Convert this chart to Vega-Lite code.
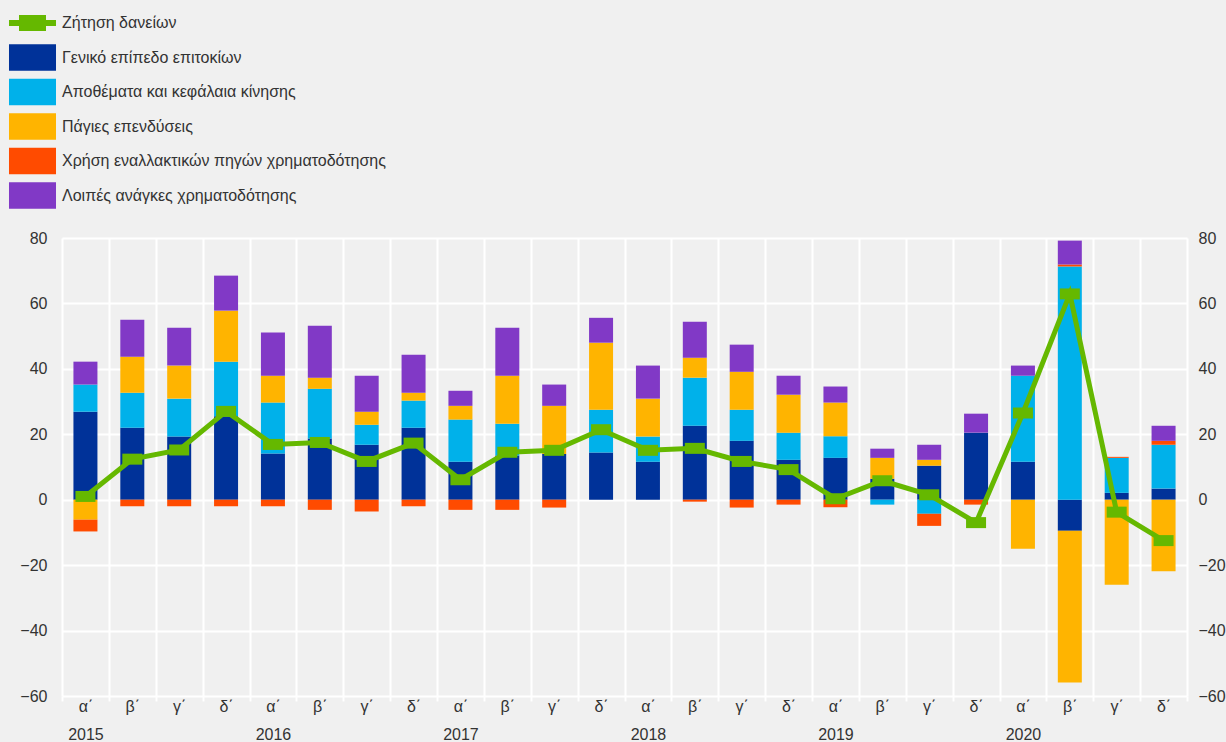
{
  "$schema": "https://vega.github.io/schema/vega-lite/v6.json",
  "autosize": {"type": "none"},
  "width": 1125,
  "height": 458,
  "padding": {"left": 62, "top": 238, "right": 39, "bottom": 46},
  "background": "#f0f0f0",
  "config": {
    "view": {"stroke": null},
    "font": "Liberation Sans",
    "axis": {"labelFont": "Liberation Sans", "labelColor": "#333333", "labelFontSize": 16, "domain": false, "gridColor": "#ffffff", "gridWidth": 2, "gridOpacity": 1, "title": null},
    "legend": {"labelFont": "Liberation Sans"}
  },
  "datasets": {
    "bars": [
      {"period": "2015 α΄", "series": "Γενικό επίπεδο επιτοκίων", "value": 26.9},
      {"period": "2015 α΄", "series": "Αποθέματα και κεφάλαια κίνησης", "value": 8.3},
      {"period": "2015 α΄", "series": "Πάγιες επενδύσεις", "value": -6.1},
      {"period": "2015 α΄", "series": "Χρήση εναλλακτικών πηγών χρηματοδότησης", "value": -3.6},
      {"period": "2015 α΄", "series": "Λοιπές ανάγκες χρηματοδότησης", "value": 7.0},
      {"period": "2015 β΄", "series": "Γενικό επίπεδο επιτοκίων", "value": 22.0},
      {"period": "2015 β΄", "series": "Αποθέματα και κεφάλαια κίνησης", "value": 10.7},
      {"period": "2015 β΄", "series": "Πάγιες επενδύσεις", "value": 11.0},
      {"period": "2015 β΄", "series": "Χρήση εναλλακτικών πηγών χρηματοδότησης", "value": -2.0},
      {"period": "2015 β΄", "series": "Λοιπές ανάγκες χρηματοδότησης", "value": 11.3},
      {"period": "2015 γ΄", "series": "Γενικό επίπεδο επιτοκίων", "value": 19.3},
      {"period": "2015 γ΄", "series": "Αποθέματα και κεφάλαια κίνησης", "value": 11.6},
      {"period": "2015 γ΄", "series": "Πάγιες επενδύσεις", "value": 10.1},
      {"period": "2015 γ΄", "series": "Χρήση εναλλακτικών πηγών χρηματοδότησης", "value": -2.0},
      {"period": "2015 γ΄", "series": "Λοιπές ανάγκες χρηματοδότησης", "value": 11.6},
      {"period": "2015 δ΄", "series": "Γενικό επίπεδο επιτοκίων", "value": 25.5},
      {"period": "2015 δ΄", "series": "Αποθέματα και κεφάλαια κίνησης", "value": 16.7},
      {"period": "2015 δ΄", "series": "Πάγιες επενδύσεις", "value": 15.6},
      {"period": "2015 δ΄", "series": "Χρήση εναλλακτικών πηγών χρηματοδότησης", "value": -2.0},
      {"period": "2015 δ΄", "series": "Λοιπές ανάγκες χρηματοδότησης", "value": 10.7},
      {"period": "2016 α΄", "series": "Γενικό επίπεδο επιτοκίων", "value": 14.1},
      {"period": "2016 α΄", "series": "Αποθέματα και κεφάλαια κίνησης", "value": 15.6},
      {"period": "2016 α΄", "series": "Πάγιες επενδύσεις", "value": 8.2},
      {"period": "2016 α΄", "series": "Χρήση εναλλακτικών πηγών χρηματοδότησης", "value": -2.0},
      {"period": "2016 α΄", "series": "Λοιπές ανάγκες χρηματοδότησης", "value": 13.2},
      {"period": "2016 β΄", "series": "Γενικό επίπεδο επιτοκίων", "value": 18.7},
      {"period": "2016 β΄", "series": "Αποθέματα και κεφάλαια κίνησης", "value": 15.2},
      {"period": "2016 β΄", "series": "Πάγιες επενδύσεις", "value": 3.4},
      {"period": "2016 β΄", "series": "Χρήση εναλλακτικών πηγών χρηματοδότησης", "value": -3.1},
      {"period": "2016 β΄", "series": "Λοιπές ανάγκες χρηματοδότησης", "value": 15.9},
      {"period": "2016 γ΄", "series": "Γενικό επίπεδο επιτοκίων", "value": 16.8},
      {"period": "2016 γ΄", "series": "Αποθέματα και κεφάλαια κίνησης", "value": 6.1},
      {"period": "2016 γ΄", "series": "Πάγιες επενδύσεις", "value": 4.0},
      {"period": "2016 γ΄", "series": "Χρήση εναλλακτικών πηγών χρηματοδότησης", "value": -3.6},
      {"period": "2016 γ΄", "series": "Λοιπές ανάγκες χρηματοδότησης", "value": 11.0},
      {"period": "2016 δ΄", "series": "Γενικό επίπεδο επιτοκίων", "value": 22.0},
      {"period": "2016 δ΄", "series": "Αποθέματα και κεφάλαια κίνησης", "value": 8.3},
      {"period": "2016 δ΄", "series": "Πάγιες επενδύσεις", "value": 2.4},
      {"period": "2016 δ΄", "series": "Χρήση εναλλακτικών πηγών χρηματοδότησης", "value": -2.0},
      {"period": "2016 δ΄", "series": "Λοιπές ανάγκες χρηματοδότησης", "value": 11.6},
      {"period": "2017 α΄", "series": "Γενικό επίπεδο επιτοκίων", "value": 11.6},
      {"period": "2017 α΄", "series": "Αποθέματα και κεφάλαια κίνησης", "value": 12.9},
      {"period": "2017 α΄", "series": "Πάγιες επενδύσεις", "value": 4.2},
      {"period": "2017 α΄", "series": "Χρήση εναλλακτικών πηγών χρηματοδότησης", "value": -3.1},
      {"period": "2017 α΄", "series": "Λοιπές ανάγκες χρηματοδότησης", "value": 4.6},
      {"period": "2017 β΄", "series": "Γενικό επίπεδο επιτοκίων", "value": 13.5},
      {"period": "2017 β΄", "series": "Αποθέματα και κεφάλαια κίνησης", "value": 9.7},
      {"period": "2017 β΄", "series": "Πάγιες επενδύσεις", "value": 14.7},
      {"period": "2017 β΄", "series": "Χρήση εναλλακτικών πηγών χρηματοδότησης", "value": -3.1},
      {"period": "2017 β΄", "series": "Λοιπές ανάγκες χρηματοδότησης", "value": 14.7},
      {"period": "2017 γ΄", "series": "Γενικό επίπεδο επιτοκίων", "value": 14.0},
      {"period": "2017 γ΄", "series": "Πάγιες επενδύσεις", "value": 14.7},
      {"period": "2017 γ΄", "series": "Χρήση εναλλακτικών πηγών χρηματοδότησης", "value": -2.4},
      {"period": "2017 γ΄", "series": "Λοιπές ανάγκες χρηματοδότησης", "value": 6.5},
      {"period": "2017 δ΄", "series": "Γενικό επίπεδο επιτοκίων", "value": 14.4},
      {"period": "2017 δ΄", "series": "Αποθέματα και κεφάλαια κίνησης", "value": 13.1},
      {"period": "2017 δ΄", "series": "Πάγιες επενδύσεις", "value": 20.5},
      {"period": "2017 δ΄", "series": "Λοιπές ανάγκες χρηματοδότησης", "value": 7.6},
      {"period": "2018 α΄", "series": "Γενικό επίπεδο επιτοκίων", "value": 11.6},
      {"period": "2018 α΄", "series": "Αποθέματα και κεφάλαια κίνησης", "value": 7.7},
      {"period": "2018 α΄", "series": "Πάγιες επενδύσεις", "value": 11.6},
      {"period": "2018 α΄", "series": "Λοιπές ανάγκες χρηματοδότησης", "value": 10.1},
      {"period": "2018 β΄", "series": "Γενικό επίπεδο επιτοκίων", "value": 22.6},
      {"period": "2018 β΄", "series": "Αποθέματα και κεφάλαια κίνησης", "value": 14.7},
      {"period": "2018 β΄", "series": "Πάγιες επενδύσεις", "value": 6.1},
      {"period": "2018 β΄", "series": "Χρήση εναλλακτικών πηγών χρηματοδότησης", "value": -0.6},
      {"period": "2018 β΄", "series": "Λοιπές ανάγκες χρηματοδότησης", "value": 11.0},
      {"period": "2018 γ΄", "series": "Γενικό επίπεδο επιτοκίων", "value": 18.0},
      {"period": "2018 γ΄", "series": "Αποθέματα και κεφάλαια κίνησης", "value": 9.5},
      {"period": "2018 γ΄", "series": "Πάγιες επενδύσεις", "value": 11.6},
      {"period": "2018 γ΄", "series": "Χρήση εναλλακτικών πηγών χρηματοδότησης", "value": -2.4},
      {"period": "2018 γ΄", "series": "Λοιπές ανάγκες χρηματοδότησης", "value": 8.3},
      {"period": "2018 δ΄", "series": "Γενικό επίπεδο επιτοκίων", "value": 12.2},
      {"period": "2018 δ΄", "series": "Αποθέματα και κεφάλαια κίνησης", "value": 8.3},
      {"period": "2018 δ΄", "series": "Πάγιες επενδύσεις", "value": 11.6},
      {"period": "2018 δ΄", "series": "Χρήση εναλλακτικών πηγών χρηματοδότησης", "value": -1.5},
      {"period": "2018 δ΄", "series": "Λοιπές ανάγκες χρηματοδότησης", "value": 5.8},
      {"period": "2019 α΄", "series": "Γενικό επίπεδο επιτοκίων", "value": 12.8},
      {"period": "2019 α΄", "series": "Αποθέματα και κεφάλαια κίνησης", "value": 6.6},
      {"period": "2019 α΄", "series": "Πάγιες επενδύσεις", "value": 10.3},
      {"period": "2019 α΄", "series": "Χρήση εναλλακτικών πηγών χρηματοδότησης", "value": -2.3},
      {"period": "2019 α΄", "series": "Λοιπές ανάγκες χρηματοδότησης", "value": 4.9},
      {"period": "2019 β΄", "series": "Γενικό επίπεδο επιτοκίων", "value": 6.4},
      {"period": "2019 β΄", "series": "Αποθέματα και κεφάλαια κίνησης", "value": -1.5},
      {"period": "2019 β΄", "series": "Πάγιες επενδύσεις", "value": 6.4},
      {"period": "2019 β΄", "series": "Λοιπές ανάγκες χρηματοδότησης", "value": 2.8},
      {"period": "2019 γ΄", "series": "Γενικό επίπεδο επιτοκίων", "value": 10.4},
      {"period": "2019 γ΄", "series": "Αποθέματα και κεφάλαια κίνησης", "value": -4.3},
      {"period": "2019 γ΄", "series": "Πάγιες επενδύσεις", "value": 1.8},
      {"period": "2019 γ΄", "series": "Χρήση εναλλακτικών πηγών χρηματοδότησης", "value": -3.7},
      {"period": "2019 γ΄", "series": "Λοιπές ανάγκες χρηματοδότησης", "value": 4.6},
      {"period": "2019 δ΄", "series": "Γενικό επίπεδο επιτοκίων", "value": 20.5},
      {"period": "2019 δ΄", "series": "Χρήση εναλλακτικών πηγών χρηματοδότησης", "value": -1.5},
      {"period": "2019 δ΄", "series": "Λοιπές ανάγκες χρηματοδότησης", "value": 5.8},
      {"period": "2020 α΄", "series": "Γενικό επίπεδο επιτοκίων", "value": 11.6},
      {"period": "2020 α΄", "series": "Αποθέματα και κεφάλαια κίνησης", "value": 26.3},
      {"period": "2020 α΄", "series": "Πάγιες επενδύσεις", "value": -15.0},
      {"period": "2020 α΄", "series": "Λοιπές ανάγκες χρηματοδότησης", "value": 3.1},
      {"period": "2020 β΄", "series": "Γενικό επίπεδο επιτοκίων", "value": -9.5},
      {"period": "2020 β΄", "series": "Αποθέματα και κεφάλαια κίνησης", "value": 71.3},
      {"period": "2020 β΄", "series": "Πάγιες επενδύσεις", "value": -46.4},
      {"period": "2020 β΄", "series": "Χρήση εναλλακτικών πηγών χρηματοδότησης", "value": 0.6},
      {"period": "2020 β΄", "series": "Λοιπές ανάγκες χρηματοδότησης", "value": 7.3},
      {"period": "2020 γ΄", "series": "Γενικό επίπεδο επιτοκίων", "value": 2.1},
      {"period": "2020 γ΄", "series": "Αποθέματα και κεφάλαια κίνησης", "value": 10.7},
      {"period": "2020 γ΄", "series": "Πάγιες επενδύσεις", "value": -26.0},
      {"period": "2020 γ΄", "series": "Χρήση εναλλακτικών πηγών χρηματοδότησης", "value": 0.3},
      {"period": "2020 δ΄", "series": "Γενικό επίπεδο επιτοκίων", "value": 3.4},
      {"period": "2020 δ΄", "series": "Αποθέματα και κεφάλαια κίνησης", "value": 13.4},
      {"period": "2020 δ΄", "series": "Πάγιες επενδύσεις", "value": -21.9},
      {"period": "2020 δ΄", "series": "Χρήση εναλλακτικών πηγών χρηματοδότησης", "value": 1.2},
      {"period": "2020 δ΄", "series": "Λοιπές ανάγκες χρηματοδότησης", "value": 4.6}
    ],
    "demand": [
      {"period": "2015 α΄", "series": "Ζήτηση δανείων", "demand": 1.0},
      {"period": "2015 β΄", "series": "Ζήτηση δανείων", "demand": 12.4},
      {"period": "2015 γ΄", "series": "Ζήτηση δανείων", "demand": 15.2},
      {"period": "2015 δ΄", "series": "Ζήτηση δανείων", "demand": 27.0},
      {"period": "2016 α΄", "series": "Ζήτηση δανείων", "demand": 16.9},
      {"period": "2016 β΄", "series": "Ζήτηση δανείων", "demand": 17.5},
      {"period": "2016 γ΄", "series": "Ζήτηση δανείων", "demand": 11.7},
      {"period": "2016 δ΄", "series": "Ζήτηση δανείων", "demand": 17.3},
      {"period": "2017 α΄", "series": "Ζήτηση δανείων", "demand": 6.1},
      {"period": "2017 β΄", "series": "Ζήτηση δανείων", "demand": 14.5},
      {"period": "2017 γ΄", "series": "Ζήτηση δανείων", "demand": 15.1},
      {"period": "2017 δ΄", "series": "Ζήτηση δανείων", "demand": 21.4},
      {"period": "2018 α΄", "series": "Ζήτηση δανείων", "demand": 15.1},
      {"period": "2018 β΄", "series": "Ζήτηση δανείων", "demand": 15.7},
      {"period": "2018 γ΄", "series": "Ζήτηση δανείων", "demand": 11.7},
      {"period": "2018 δ΄", "series": "Ζήτηση δανείων", "demand": 9.2},
      {"period": "2019 α΄", "series": "Ζήτηση δανείων", "demand": 0.3},
      {"period": "2019 β΄", "series": "Ζήτηση δανείων", "demand": 5.8},
      {"period": "2019 γ΄", "series": "Ζήτηση δανείων", "demand": 1.5},
      {"period": "2019 δ΄", "series": "Ζήτηση δανείων", "demand": -7.0},
      {"period": "2020 α΄", "series": "Ζήτηση δανείων", "demand": 26.5},
      {"period": "2020 β΄", "series": "Ζήτηση δανείων", "demand": 62.9},
      {"period": "2020 γ΄", "series": "Ζήτηση δανείων", "demand": -3.8},
      {"period": "2020 δ΄", "series": "Ζήτηση δανείων", "demand": -12.5}
    ]
  },
  "encoding": {
    "x": {
      "field": "period",
      "type": "ordinal",
      "scale": {
        "domain": ["2015 α΄","2015 β΄","2015 γ΄","2015 δ΄","2016 α΄","2016 β΄","2016 γ΄","2016 δ΄","2017 α΄","2017 β΄","2017 γ΄","2017 δ΄","2018 α΄","2018 β΄","2018 γ΄","2018 δ΄","2019 α΄","2019 β΄","2019 γ΄","2019 δ΄","2020 α΄","2020 β΄","2020 γ΄","2020 δ΄"],
        "paddingInner": 0,
        "paddingOuter": 0
      },
      "axis": {
        "labelAngle": 0,
        "tickBand": "extent",
        "grid": true,
        "ticks": true,
        "tickColor": "#ffffff",
        "tickWidth": 2,
        "tickSize": 5,
        "labelPadding": -3,
        "labelLineHeight": 28,
        "labelExpr": "[split(datum.value, ' ')[1], split(datum.value, ' ')[1] === 'α΄' ? split(datum.value, ' ')[0] : '']"
      }
    }
  },
  "layer": [
    {
      "data": {"name": "bars"},
      "transform": [
        {"calculate": "indexof(['Γενικό επίπεδο επιτοκίων','Αποθέματα και κεφάλαια κίνησης','Πάγιες επενδύσεις','Χρήση εναλλακτικών πηγών χρηματοδότησης','Λοιπές ανάγκες χρηματοδότησης'], datum.series)", "as": "k"}
      ],
      "mark": {"type": "bar", "width": {"band": 0.512}},
      "encoding": {
        "y": {
          "field": "value",
          "type": "quantitative",
          "stack": "zero",
          "scale": {"domain": [-60, 80], "nice": false},
          "axis": {"values": [-60,-40,-20,0,20,40,60,80], "ticks": false, "labelPadding": 15, "grid": true, "orient": "left"}
        },
        "order": {"field": "k", "type": "quantitative", "sort": "ascending"},
        "color": {
          "field": "series",
          "type": "nominal",
          "scale": {
            "domain": ["Ζήτηση δανείων","Γενικό επίπεδο επιτοκίων","Αποθέματα και κεφάλαια κίνησης","Πάγιες επενδύσεις","Χρήση εναλλακτικών πηγών χρηματοδότησης","Λοιπές ανάγκες χρηματοδότησης"],
            "range": ["#65b800","#003299","#00b1ea","#ffb400","#ff4b00","#8139c6"]
          },
          "legend": {
            "title": null,
            "orient": "none",
            "legendX": -43,
            "legendY": -228.5,
            "padding": 0,
            "symbolSize": 729,
            "labelOffset": 16,
            "rowPadding": 7.5,
            "labelFontSize": 16,
            "labelColor": "#333333",
            "labelLimit": 600,
            "encode": {
              "symbols": {
                "update": {
                  "shape": {"signal": "datum.value === 'Ζήτηση δανείων' ? 'M-1.741,-0.222H-1V-0.59H1V-0.222H1.741V0.222H1V0.59H-1V0.222H-1.741Z M0,-0.989L0,0.989L0,-0.989Z' : 'M-1.741,-0.989H1.741V0.989H-1.741Z'"},
                  "fill": {"scale": "color", "field": "value"},
                  "stroke": {"value": "transparent"},
                  "strokeWidth": {"value": 0},
                  "opacity": {"value": 1}
                }
              }
            }
          }
        }
      }
    },
    {
      "data": {"name": "demand"},
      "mark": {"type": "line", "color": "#65b800", "strokeWidth": 5},
      "encoding": {
        "y": {"field": "demand", "type": "quantitative", "scale": {"domain": [-60, 80], "nice": false}, "axis": null}
      }
    },
    {
      "data": {"name": "demand"},
      "mark": {"type": "point", "filled": true, "opacity": 1, "shape": "M-1,-0.55H1V0.55H-1Z", "size": 400},
      "encoding": {
        "y": {
          "field": "demand",
          "type": "quantitative",
          "scale": {"domain": [-60, 80], "nice": false},
          "axis": {"values": [-60,-40,-20,0,20,40,60,80], "ticks": false, "labelPadding": 11, "grid": false, "orient": "right"}
        },
        "color": {"field": "series", "type": "nominal"}
      }
    }
  ],
  "resolve": {"axis": {"y": "independent"}}
}
